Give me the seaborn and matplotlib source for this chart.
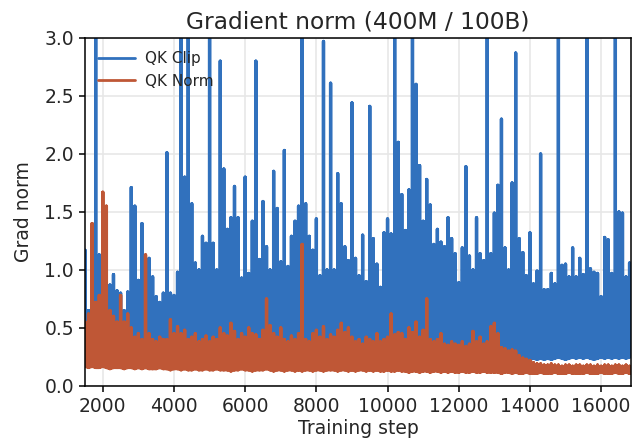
import pandas as pd
import matplotlib
matplotlib.use('Agg')
import matplotlib.pyplot as plt
import seaborn as sns

# logging steps (every 100 steps)
steps = list(range(1500, 16900, 100))

# QK Clip: per-step min / max of grad norm
clip_hi = [1.17, 0.65, 0.88, 3.60, 1.13, 0.80, 0.75, 0.87, 0.96, 0.82,
           0.80, 0.65, 0.81, 1.71, 1.55, 0.91, 1.40, 1.00, 1.10, 0.94,
           0.77, 0.72, 0.80, 2.01, 0.80, 0.78, 0.98, 3.40, 1.80, 3.30,
           1.57, 1.06, 1.00, 1.29, 1.23, 3.20, 1.23, 1.00, 2.80, 1.87,
           1.35, 1.45, 1.72, 1.45, 0.93, 1.80, 0.97, 1.42, 2.80, 1.09,
           1.59, 1.20, 1.00, 1.85, 1.53, 1.07, 2.03, 1.03, 1.29, 1.42,
           1.55, 3.50, 1.57, 1.29, 1.17, 1.44, 0.95, 2.97, 1.00, 2.61,
           1.00, 1.83, 1.57, 1.20, 1.08, 2.44, 1.10, 0.95, 1.30, 0.90,
           2.41, 1.27, 1.05, 0.85, 1.32, 1.44, 1.31, 3.50, 2.10, 1.65,
           1.34, 1.69, 3.50, 2.60, 1.90, 1.42, 1.78, 1.56, 1.22, 1.35,
           1.24, 1.20, 1.45, 1.27, 1.14, 0.89, 1.19, 1.89, 1.12, 1.00,
           1.45, 1.14, 1.08, 3.50, 1.14, 1.49, 1.73, 2.30, 1.19, 1.00,
           1.75, 2.87, 1.27, 1.15, 0.95, 1.32, 0.88, 0.99, 2.00, 0.83,
           0.83, 0.97, 0.88, 3.50, 1.04, 1.05, 0.94, 1.19, 0.94, 1.10,
           0.96, 3.50, 1.01, 0.98, 0.97, 0.77, 1.28, 1.26, 0.97, 3.50,
           1.50, 1.49, 0.94, 1.06]
clip_lo = [0.30, 0.29, 0.31, 0.30, 0.28, 0.30, 0.29, 0.31, 0.30, 0.29,
           0.30, 0.31, 0.29, 0.30, 0.30, 0.31, 0.29, 0.30, 0.31, 0.30,
           0.31, 0.30, 0.32, 0.31, 0.30, 0.32, 0.31, 0.32, 0.33, 0.32,
           0.32, 0.31, 0.32, 0.33, 0.32, 0.31, 0.32, 0.33, 0.32, 0.31,
           0.32, 0.33, 0.32, 0.31, 0.32, 0.33, 0.32, 0.31, 0.32, 0.33,
           0.32, 0.31, 0.32, 0.33, 0.32, 0.31, 0.32, 0.33, 0.32, 0.31,
           0.32, 0.31, 0.32, 0.33, 0.32, 0.31, 0.32, 0.33, 0.32, 0.31,
           0.32, 0.33, 0.32, 0.31, 0.32, 0.31, 0.32, 0.33, 0.32, 0.31,
           0.32, 0.31, 0.32, 0.33, 0.32, 0.31, 0.32, 0.33, 0.32, 0.31,
           0.32, 0.31, 0.32, 0.33, 0.32, 0.31, 0.32, 0.31, 0.32, 0.31,
           0.31, 0.30, 0.31, 0.30, 0.31, 0.30, 0.31, 0.30, 0.30, 0.31,
           0.30, 0.31, 0.30, 0.30, 0.31, 0.30, 0.30, 0.29, 0.30, 0.29,
           0.28, 0.27, 0.26, 0.25, 0.24, 0.23, 0.24, 0.23, 0.24, 0.23,
           0.24, 0.23, 0.24, 0.25, 0.24, 0.23, 0.24, 0.25, 0.24, 0.25,
           0.24, 0.25, 0.24, 0.23, 0.24, 0.25, 0.24, 0.25, 0.24, 0.25,
           0.24, 0.25, 0.24, 0.25]

# QK Norm: per-step min / max of grad norm
norm_hi = [0.55, 0.62, 1.40, 0.72, 0.78, 1.67, 1.55, 0.65, 0.60, 0.55,
           0.78, 0.55, 0.62, 0.50, 0.42, 0.45, 0.40, 1.13, 0.45, 0.40,
           0.38, 0.42, 0.40, 0.40, 0.57, 0.45, 0.51, 0.45, 0.48, 0.40,
           0.42, 0.45, 0.38, 0.40, 0.43, 0.38, 0.42, 0.40, 0.50, 0.45,
           0.43, 0.54, 0.47, 0.40, 0.45, 0.42, 0.50, 0.45, 0.44, 0.40,
           0.48, 0.75, 0.52, 0.45, 0.42, 0.50, 0.40, 0.38, 0.43, 0.40,
           0.45, 1.22, 0.40, 0.38, 0.45, 0.48, 0.42, 0.51, 0.40, 0.44,
           0.42, 0.48, 0.54, 0.46, 0.50, 0.42, 0.38, 0.40, 0.36, 0.42,
           0.40, 0.38, 0.45, 0.38, 0.40, 0.42, 0.62, 0.44, 0.46, 0.45,
           0.40, 0.50, 0.46, 0.55, 0.42, 0.48, 0.75, 0.40, 0.38, 0.40,
           0.45, 0.36, 0.35, 0.38, 0.36, 0.35, 0.38, 0.34, 0.36, 0.47,
           0.38, 0.42, 0.36, 0.38, 0.51, 0.54, 0.45, 0.33, 0.32, 0.30,
           0.31, 0.30, 0.26, 0.24, 0.23, 0.22, 0.20, 0.19, 0.19, 0.18,
           0.18, 0.19, 0.18, 0.18, 0.17, 0.18, 0.18, 0.17, 0.18, 0.18,
           0.17, 0.18, 0.18, 0.17, 0.18, 0.17, 0.18, 0.18, 0.17, 0.18,
           0.18, 0.17, 0.18, 0.17]
norm_lo = [0.17, 0.16, 0.17, 0.16, 0.16, 0.17, 0.16, 0.15, 0.16, 0.16,
           0.16, 0.15, 0.16, 0.16, 0.15, 0.16, 0.15, 0.16, 0.15, 0.15,
           0.15, 0.16, 0.15, 0.15, 0.14, 0.15, 0.15, 0.14, 0.15, 0.14,
           0.14, 0.15, 0.14, 0.14, 0.15, 0.14, 0.14, 0.15, 0.14, 0.14,
           0.14, 0.13, 0.14, 0.14, 0.15, 0.14, 0.14, 0.13, 0.14, 0.14,
           0.14, 0.15, 0.14, 0.13, 0.14, 0.14, 0.13, 0.14, 0.14, 0.13,
           0.14, 0.13, 0.14, 0.14, 0.13, 0.14, 0.14, 0.13, 0.14, 0.14,
           0.14, 0.13, 0.14, 0.14, 0.13, 0.14, 0.13, 0.14, 0.14, 0.13,
           0.14, 0.13, 0.14, 0.13, 0.13, 0.14, 0.13, 0.13, 0.14, 0.13,
           0.13, 0.12, 0.13, 0.13, 0.12, 0.13, 0.13, 0.12, 0.13, 0.13,
           0.12, 0.13, 0.12, 0.13, 0.12, 0.12, 0.13, 0.12, 0.12, 0.13,
           0.12, 0.12, 0.13, 0.12, 0.12, 0.12, 0.12, 0.11, 0.12, 0.12,
           0.11, 0.12, 0.11, 0.11, 0.12, 0.11, 0.11, 0.11, 0.12, 0.11,
           0.11, 0.11, 0.12, 0.11, 0.11, 0.11, 0.12, 0.11, 0.11, 0.11,
           0.11, 0.12, 0.11, 0.11, 0.11, 0.12, 0.11, 0.11, 0.11, 0.12,
           0.11, 0.11, 0.12, 0.11]

runs = ['QK Clip', 'QK Norm']
colors = {'QK Clip': '#3171bd', 'QK Norm': '#bf5736'}

# long-form table: each logged step goes min -> max -> min so the noise band is drawn
rows = []
for run, lo, hi in [('QK Clip', clip_lo, clip_hi), ('QK Norm', norm_lo, norm_hi)]:
    for s, a, b in zip(steps, lo, hi):
        rows.append((run, s, a))
        rows.append((run, s, b))
        rows.append((run, s, a))
df = pd.DataFrame(rows, columns=['run', 'step', 'grad_norm'])

sns.set_style('ticks')
plt.rcParams['font.family'] = ['DejaVu Sans']

fig, ax = plt.subplots(figsize=(6.32, 4.47), dpi=100)
fig.subplots_adjust(left=0.1345, right=0.999, bottom=0.1365, top=0.915)

sns.lineplot(data=df, x='step', y='grad_norm', hue='run', hue_order=runs,
             palette=colors, estimator=None, sort=False, linewidth=2.4, ax=ax)

ax.set_xlim(1500, 16850)
ax.set_ylim(0, 3.0)
ax.set_xticks(range(2000, 16001, 2000))
ax.set_yticks([0.0, 0.5, 1.0, 1.5, 2.0, 2.5, 3.0])
ax.set_yticklabels(['0.0', '0.5', '1.0', '1.5', '2.0', '2.5', '3.0'])
ax.grid(True, color='#e6e6e6', linewidth=1.1)
ax.set_axisbelow(True)
for sp in ax.spines.values():
    sp.set_linewidth(1.1)
    sp.set_color('black')
ax.tick_params(axis='both', labelsize=13.5, length=4.5, width=1.1, color='black')

ax.set_title('Gradient norm (400M / 100B)', fontsize=16.8, pad=7)
ax.set_xlabel('Training step', fontsize=13.5, labelpad=2)
ax.set_ylabel('Grad norm', fontsize=13.5, labelpad=8)

handles, labels = ax.get_legend_handles_labels()
leg = ax.legend(handles, labels, loc='upper left', frameon=False, fontsize=11,
                handlelength=2.4, handletextpad=0.7, borderaxespad=0.45,
                labelspacing=0.5)
for h in leg.get_lines():
    h.set_linewidth(2.0)

plt.savefig('out.png', dpi=100)
